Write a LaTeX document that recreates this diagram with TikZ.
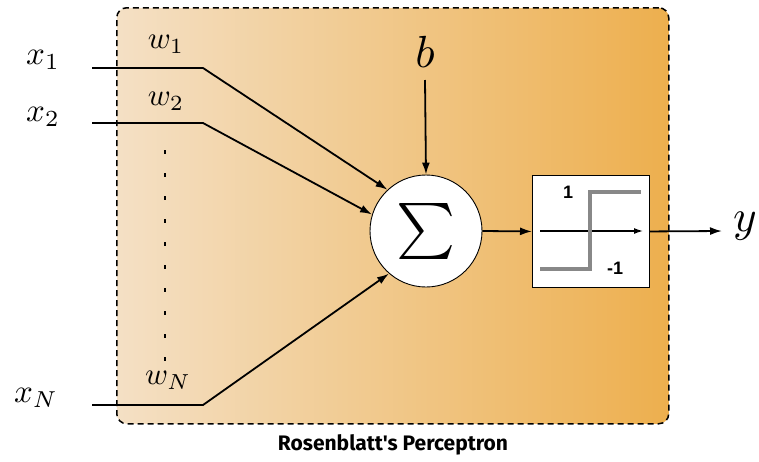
\documentclass[tikz,border=0pt]{standalone}
\usepackage{fontspec}
\usepackage{graphicx}
\newfontfamily\capfont{Fira Sans}
\newfontfamily\arialfont{Liberation Sans}
\usetikzlibrary{arrows.meta}
\definecolor{gradL}{RGB}{244,224,197}
\definecolor{gradR}{RGB}{237,175,78}
\definecolor{stepgray}{RGB}{136,136,136}
\newcommand{\inl}[1]{\scalebox{3.3}{$#1$}}
\newcommand{\wl}[1]{\scalebox{3.1}{$#1$}}
\newcommand{\bgl}[1]{\scalebox{4.5}{$#1$}}
\begin{document}
\begin{tikzpicture}[x=1pt,y=-1pt,
  conn/.style={line width=1.8pt,-{Latex[length=12pt,width=8pt]}},
  steptext/.style={font=\arialfont\bfseries\fontsize{18}{20}\selectfont}]
\useasboundingbox (0,0) rectangle (759,461);
% background box
\node[draw=black, dash pattern=on 6pt off 4pt, line width=1.5pt, rounded corners=10pt,
  left color=gradL, right color=gradR, minimum width=552pt, minimum height=416pt,
  inner sep=0pt, anchor=north west] (frame) at (116,7) {};
\node[font=\capfont\bfseries\fontsize{21}{24}\selectfont] (cap) at (393,445) {Rosenblatt's Perceptron};
% sum node
\node[circle, draw=black, line width=0.9pt, fill=white, minimum size=112pt, inner sep=0pt] (sum) at (426,231) {};
\node (sig) at (426,231) {\scalebox{5.6}{$\sum$}};
% step node
\node[draw=black, line width=0.9pt, fill=white, minimum width=117pt, minimum height=112pt,
  inner sep=0pt, anchor=north west] (step) at (532,175) {};
\coordinate (ax1) at (540,231);
\coordinate (ax2) at (643,231);
\draw[line width=1.3pt,-{Latex[length=9pt,width=6pt]}] (ax1) -- (ax2);
\coordinate (s1) at (540,269);
\coordinate (s2) at (590,269);
\coordinate (s3) at (590,192);
\coordinate (s4) at (641,192);
\draw[stepgray, line width=3.2pt] (s1) -- (s2) -- (s3) -- (s4);
\node[steptext] (one) at (568,192) {1};
\node[steptext] (mone) at (615,268) {-1};
% inputs
\node (x1) at (43,60) {\inl{x_1}};
\node (x2) at (43,117) {\inl{x_2}};
\node (xN) at (36,398) {\inl{x_N}};
\coordinate (a1) at (92,68);
\coordinate (k1) at (203,68);
\coordinate (a2) at (92,123);
\coordinate (k2) at (203,123);
\coordinate (aN) at (92,405);
\coordinate (kN) at (203,405);
\draw[conn] (a1) -- (k1) -- (sum.133);
\draw[conn] (a2) -- (k2) -- (sum.163);
\draw[conn] (aN) -- (kN) -- (sum.229);
\node (w1) at (166,44) {\wl{w_1}};
\node (w2) at (166,101) {\wl{w_2}};
\node (wN) at (168,380) {\wl{w_N}};
\coordinate (d1) at (165,150);
\coordinate (d2) at (165,362);
\draw[line width=2pt, dash pattern=on 4pt off 19pt] (d1) -- (d2);
% bias
\node (b) at (425,52) {\bgl{b}};
\coordinate (bt) at (425,80);
\draw[conn] (bt) -- (sum.north);
% sum to step and output
\draw[conn] (sum.east) -- (step.west);
\coordinate (out) at (722,231);
\draw[conn] (step.east) -- (out);
\node (y) at (745,226) {\bgl{y}};
\end{tikzpicture}
\end{document}
